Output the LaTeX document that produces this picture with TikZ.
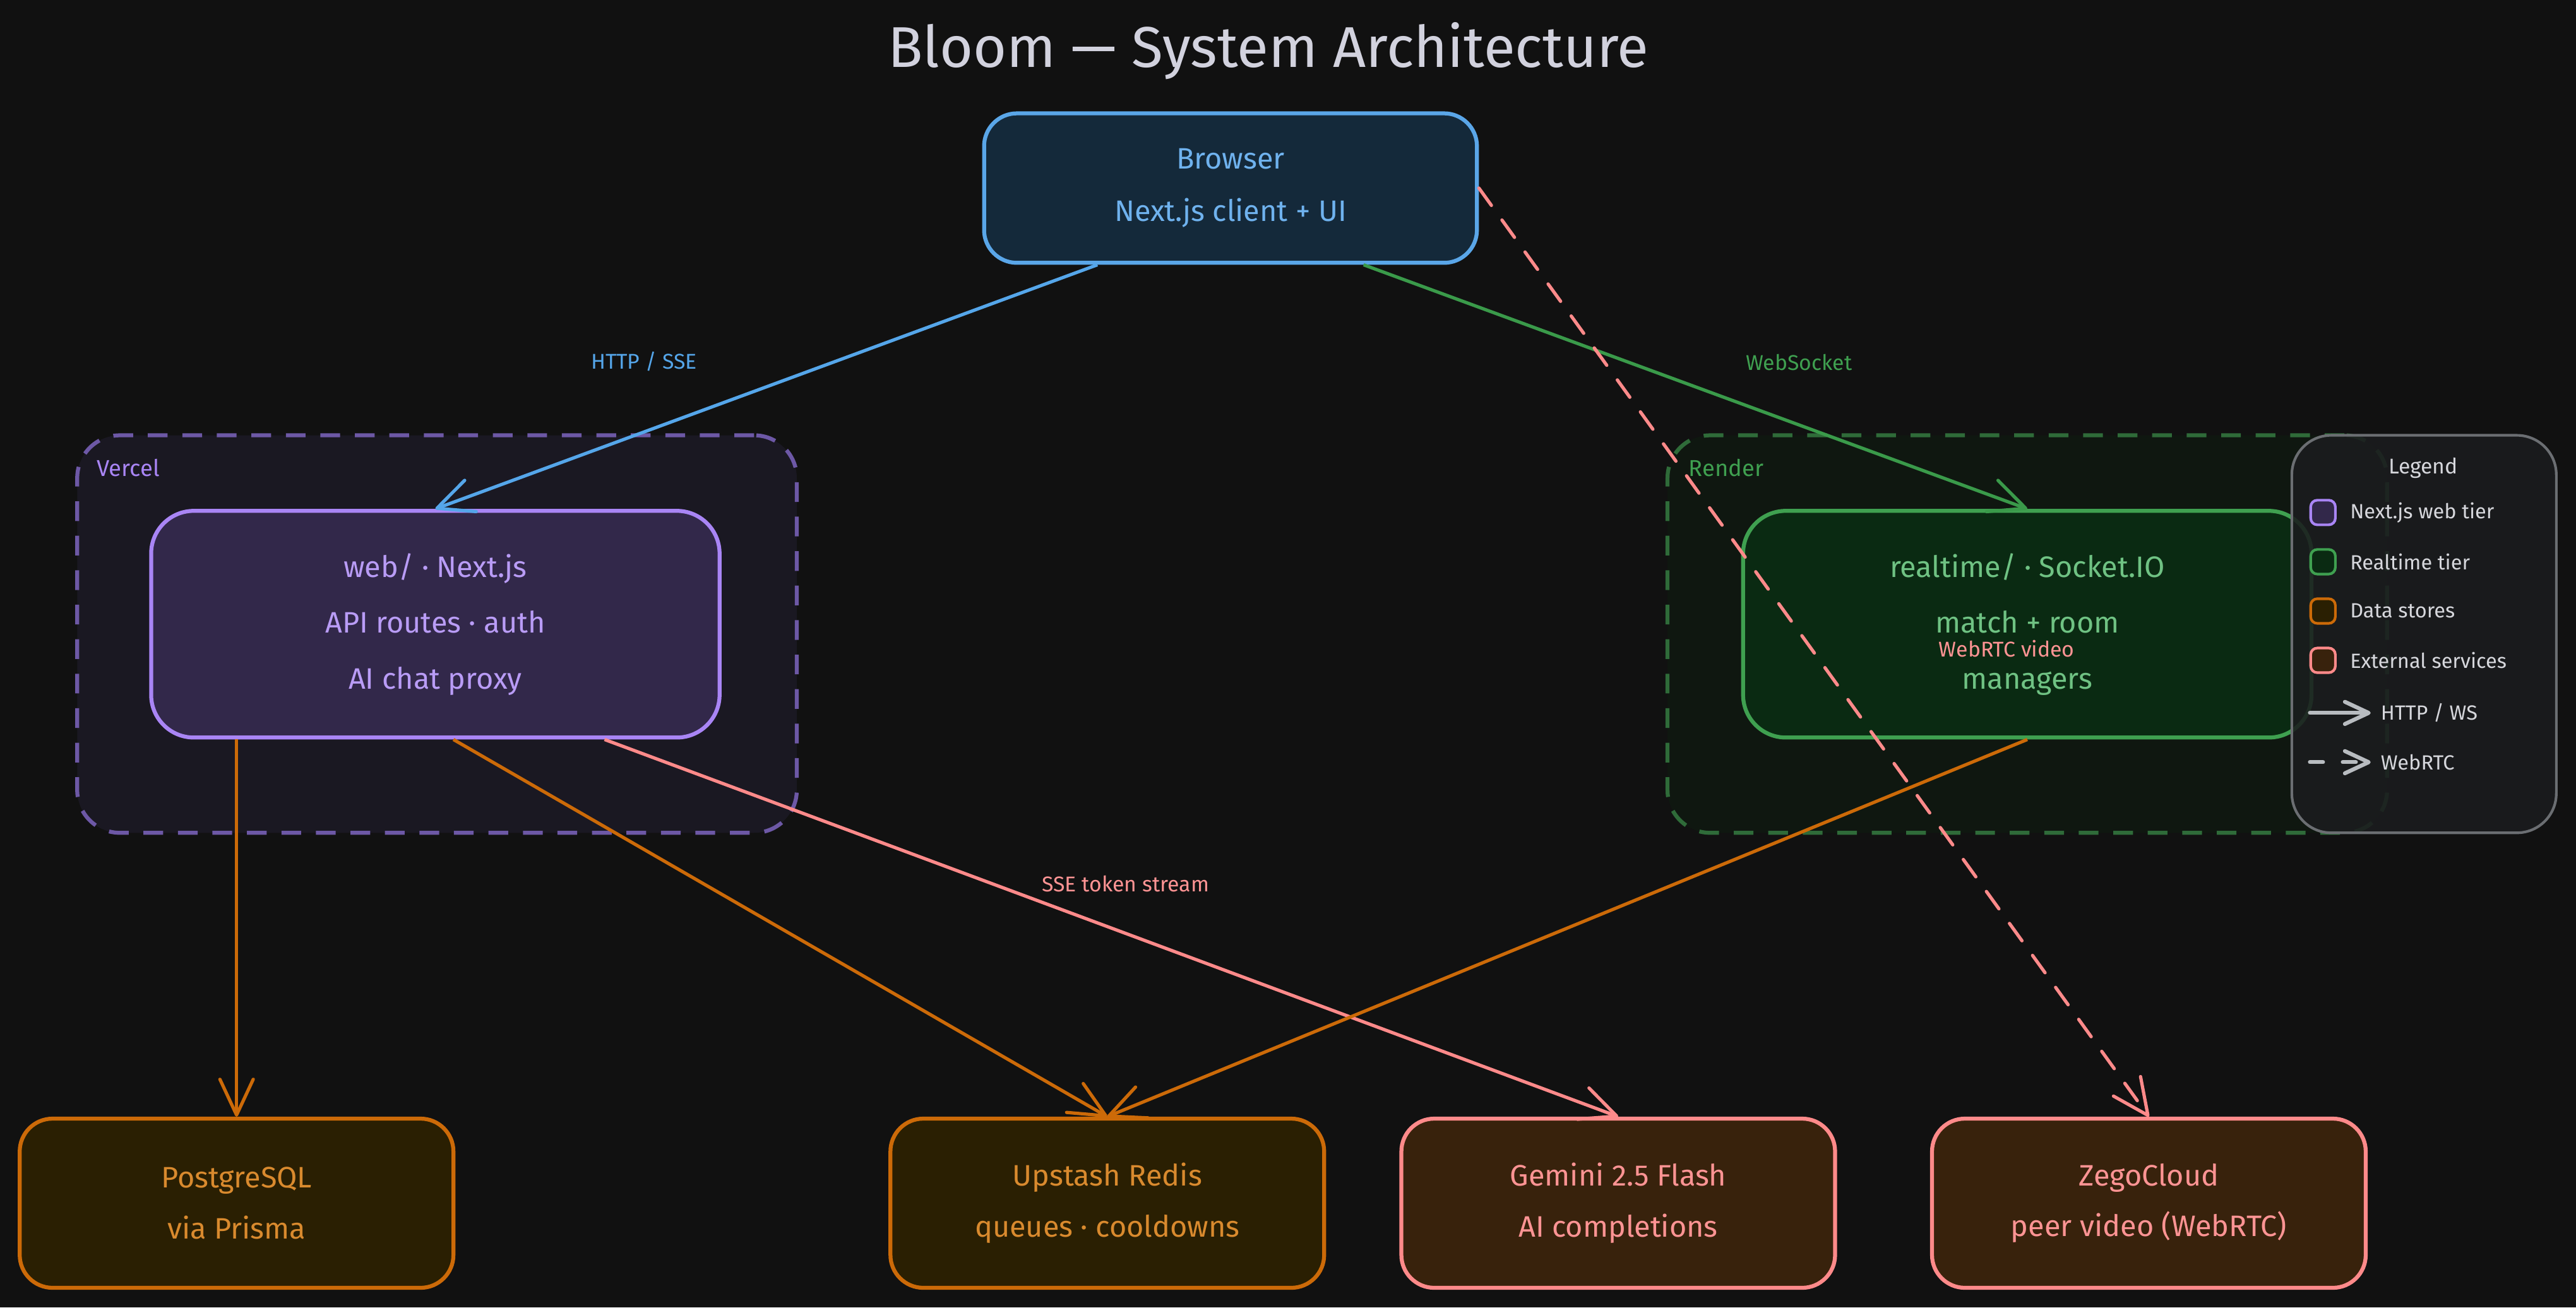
\documentclass[tikz,border=0pt]{standalone}
\usepackage{fontspec}
\setmainfont{Fira Sans}
\usetikzlibrary{positioning,calc,arrows.meta}

\definecolor{bgcol}{HTML}{111111}
\definecolor{titletxt}{HTML}{D2D2DE}
\definecolor{browserfill}{HTML}{14293A}
\definecolor{browserdraw}{HTML}{5AA6E8}
\definecolor{browsertxt}{HTML}{6FB2EE}
\definecolor{httpcol}{HTML}{55A6EA}
\definecolor{vercelfill}{HTML}{1A1822}
\definecolor{vercelline}{HTML}{6D58A6}
\definecolor{webfill}{HTML}{32284A}
\definecolor{webdraw}{HTML}{A985F5}
\definecolor{webtxt}{HTML}{B99CF6}
\definecolor{renderfill}{HTML}{0F1710}
\definecolor{renderline}{HTML}{2F6B39}
\definecolor{rtfill}{HTML}{0A2A12}
\definecolor{rtdraw}{HTML}{3FA050}
\definecolor{rttxt}{HTML}{6FC283}
\definecolor{wscol}{HTML}{3A9A4A}
\definecolor{storefill}{HTML}{2A1F02}
\definecolor{storedraw}{HTML}{CC6A08}
\definecolor{storetxt}{HTML}{D98A2E}
\definecolor{extfill}{HTML}{38220C}
\definecolor{extdraw}{HTML}{FF8A8A}
\definecolor{exttxt}{HTML}{FF9494}
\definecolor{legfill}{HTML}{1B1C1E}
\definecolor{legdraw}{HTML}{6B6E72}
\definecolor{legtxt}{HTML}{D6D7DC}
\definecolor{legarrow}{HTML}{B8BCC0}

\begin{document}
\begin{tikzpicture}[
  x=1pt, y=-1pt,
  group/.style={rectangle, rounded corners=26pt, draw, line width=2.4pt, dash pattern=on 12pt off 9pt, minimum width=438pt, minimum height=242pt},
  grouplbl/.style={anchor=west, inner sep=0pt, font=\fontsize{14}{16}\selectfont},
  tier/.style={rectangle, rounded corners=26pt, draw, line width=2.4pt, minimum width=346pt, minimum height=138pt, align=center, font=\fontsize{18}{34}\selectfont},
  storebox/.style={rectangle, rounded corners=20pt, draw, line width=2.4pt, minimum width=264pt, minimum height=103pt, align=center, font=\fontsize{18}{31}\selectfont},
  link/.style={line width=2pt, -{Straight Barb[angle=50:24pt, round]}},
  lbl/.style={inner sep=0pt, font=\fontsize{13}{15}\selectfont},
  swatch/.style={rectangle, rounded corners=4pt, draw, line width=1.6pt, minimum width=15pt, minimum height=15pt, inner sep=0pt},
  legtext/.style={inner sep=0pt, text=legtxt, font=\fontsize{12.5}{14}\selectfont},
  legline/.style={line width=2.4pt, legarrow, line cap=round, -{Straight Barb[angle=50:16pt, round]}},
]
  % background, fixes the page size
  \fill[bgcol] (0,0) rectangle (1568,796);

  \node[text=titletxt, font=\fontsize{35}{40}\selectfont] (title) at (772,31) {Bloom — System Architecture};

  % hosting groups
  \node[group, draw=vercelline, fill=vercelfill] (vercel) at (266,386) {};
  \node[group, draw=renderline, fill=renderfill] (render) at (1234,386) {};
  \node[grouplbl, text=webdraw] (vercellbl) at ($(vercel.north west)+(13,21)$) {Vercel};
  \node[grouplbl, text=rtdraw] (renderlbl) at ($(render.north west)+(14,21)$) {Render};

  % tiers
  \node[tier, rounded corners=20pt, minimum width=300pt, minimum height=91pt, font=\fontsize{18}{32}\selectfont,
        draw=browserdraw, fill=browserfill, text=browsertxt] (browser) at (749,114.5) {Browser\\Next.js client + UI};
  \node[tier, draw=webdraw, fill=webfill, text=webtxt] (web) at (265,380) {web/ · Next.js\\API routes · auth\\AI chat proxy};
  \node[tier, draw=rtdraw, fill=rtfill, text=rttxt] (realtime) at (1234,380) {realtime/ · Socket.IO\\match + room\\managers};

  % data stores and external services
  \node[storebox, draw=storedraw, fill=storefill, text=storetxt] (postgres) at (144,732.5) {PostgreSQL\\via Prisma};
  \node[storebox, draw=storedraw, fill=storefill, text=storetxt] (redis) at (674,732.5) {Upstash Redis\\queues · cooldowns};
  \node[storebox, draw=extdraw, fill=extfill, text=exttxt] (gemini) at (985,732.5) {Gemini 2.5 Flash\\AI completions};
  \node[storebox, draw=extdraw, fill=extfill, text=exttxt] (zego) at (1308,732.5) {ZegoCloud\\peer video (WebRTC)};

  % connections
  \draw[link, httpcol] ($(browser.south)+(-81,0)$) -- (web.north)
    node[lbl, text=httpcol, pos=0.685, yshift=43pt] {HTTP / SSE};
  \draw[link, wscol] ($(browser.south)+(81,0)$) -- (realtime.north)
    node[lbl, text=rtdraw, pos=0.656, yshift=38pt] {WebSocket};
  \draw[link, extdraw, dash pattern=on 13pt off 11pt, line cap=round] (browser.east) -- (zego.north)
    node[lbl, text=exttxt, pos=0.496, xshift=119pt] {WebRTC video};
  \draw[link, storedraw] ($(web.south)+(-121,0)$) -- (postgres.north);
  \draw[link, storedraw] ($(web.south)+(11,0)$) -- (redis.north);
  \draw[link, extdraw] ($(web.south)+(103,0)$) -- (gemini.north)
    node[lbl, text=exttxt, pos=0.514, yshift=30pt] {SSE token stream};
  \draw[link, storedraw] (realtime.south) -- (redis.north);

  % legend
  \node[rectangle, rounded corners=24pt, draw=legdraw, line width=1.6pt, fill=legfill, fill opacity=0.88,
        minimum width=161pt, minimum height=242pt] (legend) at (1475.5,386) {};
  \node[legtext, font=\fontsize{13}{15}\selectfont] (legtitle) at (1475,285) {Legend};
  \node[swatch, draw=webdraw, fill=webfill] (sw1) at (1414,312) {};
  \node[swatch, draw=rtdraw, fill=rtfill, below=13.4pt of sw1] (sw2) {};
  \node[swatch, draw=storedraw, fill=storefill, below=13.4pt of sw2] (sw3) {};
  \node[swatch, draw=extdraw, fill=extfill, below=13.4pt of sw3] (sw4) {};
  \node[legtext, right=8pt of sw1] (lt1) {Next.js web tier};
  \node[legtext, right=8pt of sw2] (lt2) {Realtime tier};
  \node[legtext, right=8pt of sw3] (lt3) {Data stores};
  \node[legtext, right=8pt of sw4] (lt4) {External services};
  \coordinate (ha) at (1406,434);
  \coordinate[right=37pt of ha] (hb);
  \draw[legline] (ha) -- (hb);
  \node[legtext, right=6pt of hb] (lt5) {HTTP / WS};
  \coordinate (wa) at (1406,464);
  \coordinate[right=37pt of wa] (wb);
  \draw[legline, dash pattern=on 8pt off 12pt] (wa) -- (wb);
  \node[legtext, right=6pt of wb] (lt6) {WebRTC};
\end{tikzpicture}
\end{document}
